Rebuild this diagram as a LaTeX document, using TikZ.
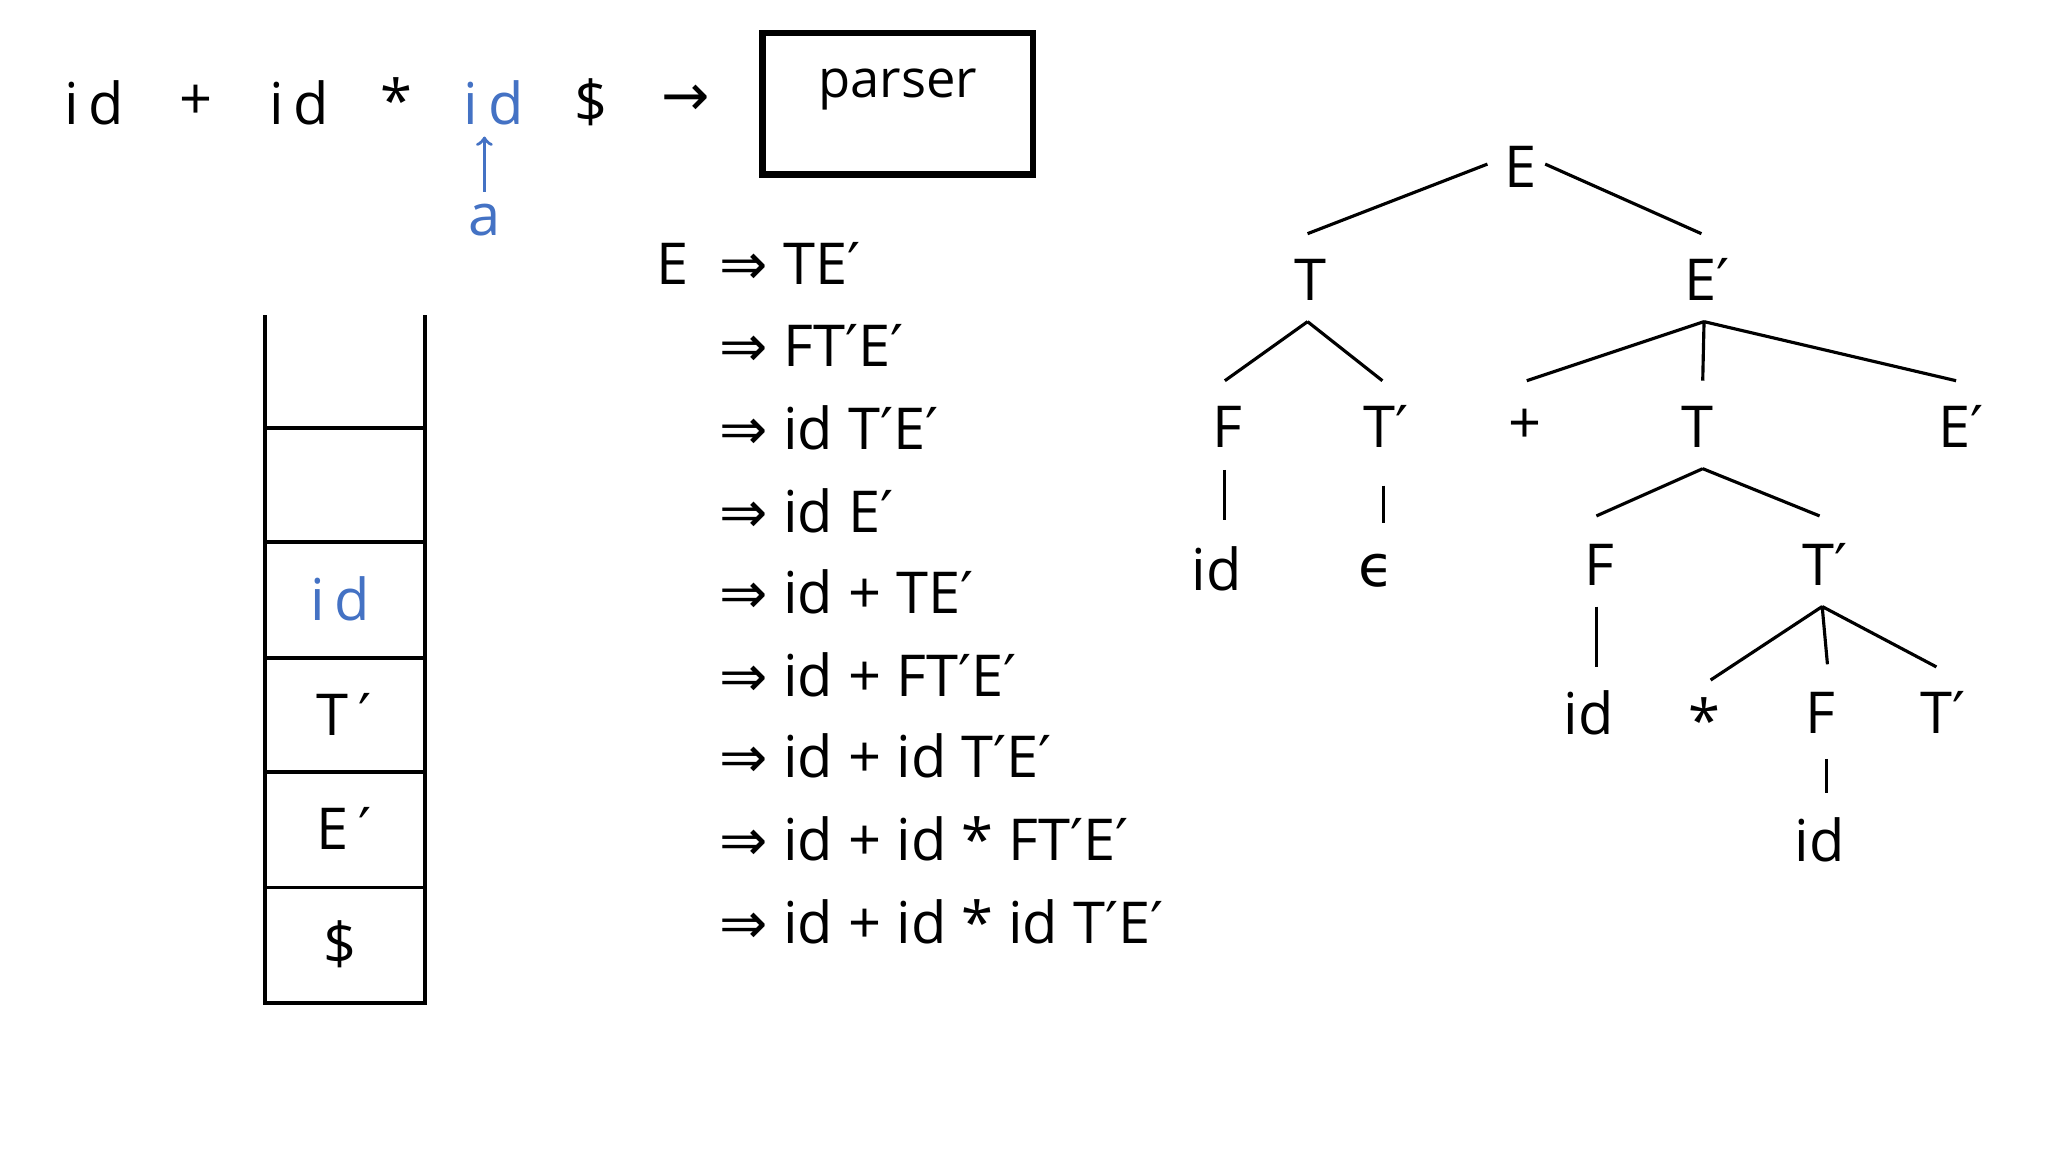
\documentclass[tikz,border=0pt]{standalone}
\usepackage{fontspec}
\setmainfont{Open Sans}
\newfontfamily\dvf{DejaVu Sans}
\newcommand{\prm}{{\dvf ′}}
\newcommand{\Toarr}{{\dvf ⇒}}
\definecolor{bl}{HTML}{4472C4}
\begin{document}
\begin{tikzpicture}[x=0.5pt,y=-0.5pt,
  txt/.style={font=\fontsize{22}{26}\selectfont,inner sep=1pt},
  tn/.style={font=\fontsize{22}{26}\selectfont,inner sep=3pt},
  der/.style={font=\fontsize{22}{26}\selectfont,anchor=west,inner sep=0pt},
  edge/.style={line width=1.2pt},
  box/.style={line width=1.5pt}]
\useasboundingbox (0,0) rectangle (1560,877.5);
% input
\node[txt] (i1) at (72,78) {i\,d};
\node[txt] (p1) at (149,78) {+};
\node[txt] (i2) at (228,78) {i\,d};
\node[txt] (s1) at (302,76) {*};
\node[txt,text=bl] (i3) at (376,78) {i\,d};
\node[txt] (d1) at (450,78) {\$};
\node[txt] (ar) at (522,76) {\dvf →};
\node[draw,line width=2.5pt,minimum width=103pt,minimum height=54pt] (parser) at (684,79) {};
\node[font=\fontsize{20}{24}\selectfont] (ptxt) at (684,68) {parser};
\node[txt,text=bl] (a) at (369,168) {a};
\coordinate (ab) at (369,146);
\coordinate (at) at (369,104);
\draw[bl,line width=1.3pt,->] (ab) -- (at);
% stack
\draw[box] (202,240) -- (202,764) -- (324,764) -- (324,240);
\foreach \y in {326,413,501,588,676} \draw[box] (202,\y) -- (324,\y);
\node[txt,text=bl] (c1) at (259,456) {i\,d};
\node[txt] (c2) at (262,544) {T\,\prm};
\node[txt] (c3) at (262,631) {E\,\prm};
\node[txt] (c4) at (259,719) {\$};
% derivation
\node[der] (d0) at (500,201) {E};
\node[der] (l1) at (548,201) {\Toarr{} TE\prm};
\node[der] (l2) at (548,263) {\Toarr{} FT\prm E\prm};
\node[der] (l3) at (548,326) {\Toarr{} id T\prm E\prm};
\node[der] (l4) at (548,389) {\Toarr{} id E\prm};
\node[der] (l5) at (548,451) {\Toarr{} id + TE\prm};
\node[der] (l6) at (548,514) {\Toarr{} id + FT\prm E\prm};
\node[der] (l7) at (548,576) {\Toarr{} id + id T\prm E\prm};
\node[der] (l8) at (548,639) {\Toarr{} id + id * FT\prm E\prm};
\node[der] (l9) at (548,702) {\Toarr{} id + id * id T\prm E\prm};
% tree
\node[tn] (E) at (1158,127) {E};
\node[tn] (T) at (998,213) {T};
\node[tn] (Ep) at (1300,213) {E\prm};
\node[tn] (F1) at (935,325) {F};
\node[tn] (Tp1) at (1056,325) {T\prm};
\node[tn] (pl) at (1162,325) {+};
\node[tn] (T2) at (1293,325) {T};
\node[tn] (Ep2) at (1494,325) {E\prm};
\node[tn] (id1) at (927,433) {id};
\node[tn] (eps) at (1048,435) {\dvf ϵ};
\node[tn] (F2) at (1218,430) {F};
\node[tn] (Tp2) at (1390,430) {T\prm};
\node[tn] (id2) at (1210,543) {id};
\node[tn] (st) at (1298,548) {*};
\node[tn] (F3) at (1387,543) {F};
\node[tn] (Tp3) at (1480,543) {T\prm};
\node[tn] (id3) at (1386,640) {id};
\draw[edge] (1133,125) -- (996,178) (1177,125) -- (1296,178);
\draw[edge] (996,245) -- (933,290) (996,245) -- (1053,290);
\draw[edge] (1298,245) -- (1163,290) (1298,245) -- (1297,290) (1298,245) -- (1490,290);
\draw[edge] (933,358) -- (933,396) (1054,370) -- (1054,398);
\draw[edge] (1297,357) -- (1216,393) (1297,357) -- (1386,393);
\draw[edge] (1216,462) -- (1216,508);
\draw[edge] (1388,462) -- (1303,518) (1388,462) -- (1392,506) (1388,462) -- (1475,508);
\draw[edge] (1391,578) -- (1391,604);
\end{tikzpicture}
\end{document}
